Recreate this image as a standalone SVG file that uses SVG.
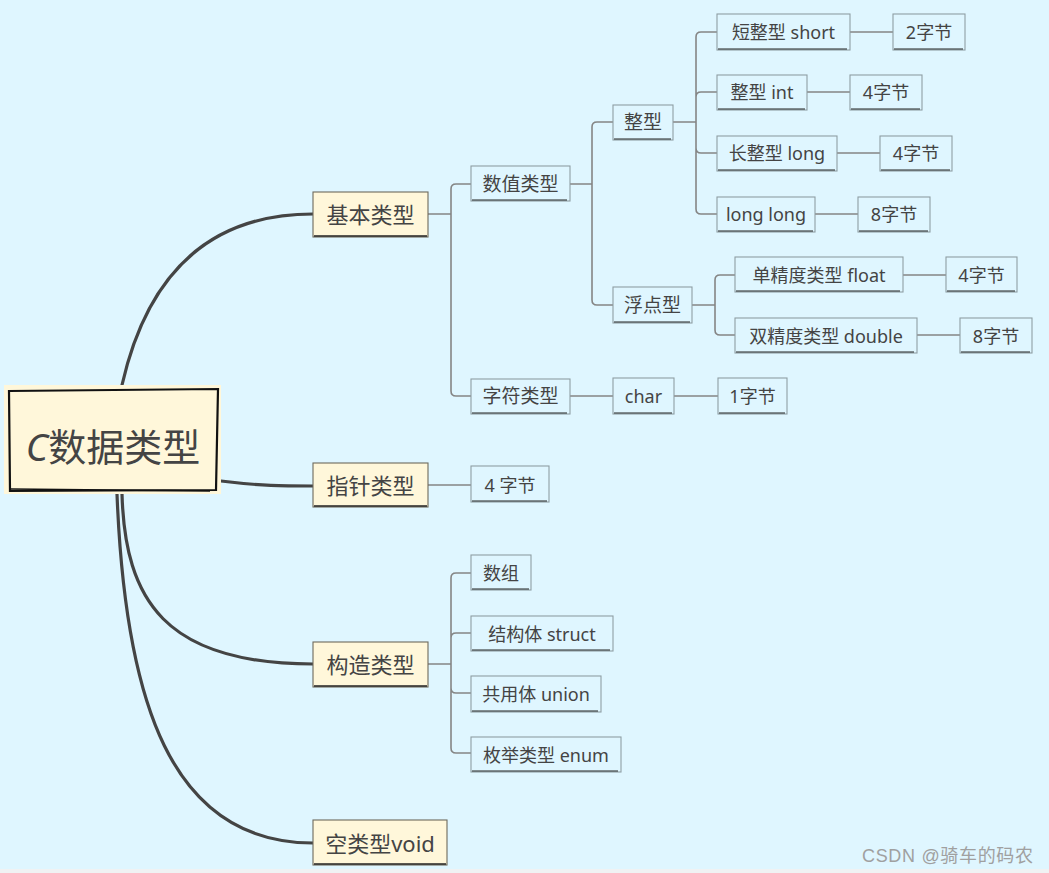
<svg xmlns="http://www.w3.org/2000/svg" width="1049" height="873" viewBox="0 0 1049 873">
<style>
.t{font-family:"Noto Sans","Noto Sans CJK SC",sans-serif;fill:#444;dominant-baseline:central;text-anchor:middle}
.leaf rect{fill:#dff6ff;stroke:#8e9ea4;stroke-width:1.1}
.leaf .b{stroke:#222;stroke-width:1.2;fill:none}
.l1 rect{fill:#fff7da;stroke:#6d6a5c;stroke-width:1.1}
.l1 .b{stroke:#222;stroke-width:1.3;fill:none}
.thick{fill:none;stroke:#444;stroke-width:3.2;stroke-linecap:round}
.thin{fill:none;stroke:#858585;stroke-width:1.6}
</style>
<rect x="0" y="0" width="1049" height="873" fill="#dff6ff"/>
<rect x="0" y="869" width="1049" height="4" fill="#f0f2f3"/>

<g id="connectors">
  <path class="thick" d="M122,385 C150,262 220,214 313,214"/>
  <path class="thick" d="M221,481 C262,486 282,486 313,486"/>
  <path class="thick" d="M122,494 C125,600 165,664 313,664"/>
  <path class="thick" d="M117,494 C125,700 170,843 313,843"/>

  <path class="thin" d="M428,214 H451 M451,214 V189 Q451,184 456,184 H471 M451,214 V391 Q451,396 456,396 H471"/>
  <path class="thin" d="M570,184 H592 M592,184 V127 Q592,122 597,122 H613 M592,184 V300 Q592,305 597,305 H613"/>
  <path class="thin" d="M673,122 H696 M696,122 V37 Q696,32 701,32 H717 M696,122 V97 Q696,92 701,92 H717 M696,122 V148 Q696,153 701,153 H717 M696,122 V209 Q696,214 701,214 H717"/>
  <path class="thin" d="M692,305 H715 M715,305 V280 Q715,275 720,275 H735 M715,305 V330 Q715,335 720,335 H735"/>
  <path class="thin" d="M428,664 H451 M451,664 V578 Q451,573 456,573 H471 M451,664 V638 Q451,633 456,633 H471 M451,664 V688 Q451,693 456,693 H471 M451,664 V748 Q451,753 456,753 H471"/>
  <path class="thin" d="M850,32 H893 M807,92 H850 M837,153 H880 M815,214 H858 M903,275 H946 M917,335 H960 M570,396 H613 M674,396 H718 M428,485 H471"/>
</g>

<g id="root">
  <rect x="4" y="385" width="217" height="109" fill="#fff7da"/>
  <path d="M9,391 L218,389 L216,490 L10,491 Z" fill="none" stroke="#111" stroke-width="2.2"/>
  <path d="M11,489 L210,491" fill="none" stroke="#111" stroke-width="1.4"/>
  <text class="t" x="113" y="446" font-size="38"><tspan font-style="italic">C</tspan>数据类型</text>
</g>

<g id="basic" class="l1"><rect x="313" y="192" width="115" height="45"/><path class="b" d="M314,236 H427"/><text class="t" x="370.5" y="214" font-size="22">基本类型</text></g>
<g id="pointer" class="l1"><rect x="313" y="463" width="115" height="44"/><path class="b" d="M314,506 H427"/><text class="t" x="370.5" y="485" font-size="22">指针类型</text></g>
<g id="struct-type" class="l1"><rect x="313" y="642" width="115" height="45"/><path class="b" d="M314,686 H427"/><text class="t" x="370.5" y="664" font-size="22">构造类型</text></g>
<g id="void" class="l1"><rect x="313" y="820" width="134" height="45"/><path class="b" d="M314,864 H446"/><text class="t" x="380" y="843" font-size="22">空类型void</text></g>

<g id="numeric" class="leaf"><rect x="471" y="166" width="99" height="35"/><path class="b" d="M472,200 H567"/><text class="t" x="520.5" y="184" font-size="19">数值类型</text></g>
<g id="chartype" class="leaf"><rect x="471" y="379" width="99" height="35"/><path class="b" d="M472,413 H567"/><text class="t" x="520.5" y="396" font-size="19">字符类型</text></g>
<g id="ptr4" class="leaf"><rect x="471" y="466" width="78" height="36"/><path class="b" d="M472,501 H547"/><text class="t" x="510" y="485" font-size="18">4 字节</text></g>

<g id="int" class="leaf"><rect x="613" y="105" width="60" height="35"/><path class="b" d="M614,139 H671"/><text class="t" x="643" y="122" font-size="19">整型</text></g>
<g id="float" class="leaf"><rect x="613" y="287" width="79" height="36"/><path class="b" d="M614,322 H690"/><text class="t" x="652.5" y="305" font-size="19">浮点型</text></g>
<g id="char" class="leaf"><rect x="613" y="378" width="61" height="36"/><path class="b" d="M614,413 H672"/><text class="t" x="643.5" y="396" font-size="18">char</text></g>
<g id="char1" class="leaf"><rect x="718" y="378" width="69" height="36"/><path class="b" d="M719,413 H785"/><text class="t" x="752.5" y="396" font-size="18">1字节</text></g>

<g id="short" class="leaf"><rect x="717" y="14" width="133" height="36"/><path class="b" d="M718,49 H847"/><text class="t" x="783.5" y="32" font-size="18">短整型 short</text></g>
<g id="short2" class="leaf"><rect x="893" y="14" width="72" height="36"/><path class="b" d="M894,49 H963"/><text class="t" x="929" y="32" font-size="18">2字节</text></g>
<g id="intn" class="leaf"><rect x="717" y="75" width="90" height="35"/><path class="b" d="M718,109 H805"/><text class="t" x="762" y="92" font-size="18">整型 int</text></g>
<g id="int4" class="leaf"><rect x="850" y="75" width="72" height="35"/><path class="b" d="M851,109 H920"/><text class="t" x="886" y="92" font-size="18">4字节</text></g>
<g id="long" class="leaf"><rect x="717" y="136" width="120" height="35"/><path class="b" d="M718,170 H835"/><text class="t" x="777" y="153" font-size="18">长整型 long</text></g>
<g id="long4" class="leaf"><rect x="880" y="136" width="72" height="35"/><path class="b" d="M881,170 H950"/><text class="t" x="916" y="153" font-size="18">4字节</text></g>
<g id="longlong" class="leaf"><rect x="717" y="197" width="98" height="35"/><path class="b" d="M718,231 H813"/><text class="t" x="766" y="214" font-size="18">long long</text></g>
<g id="longlong8" class="leaf"><rect x="858" y="197" width="72" height="35"/><path class="b" d="M859,231 H928"/><text class="t" x="894" y="214" font-size="18">8字节</text></g>
<g id="single" class="leaf"><rect x="735" y="257" width="168" height="35"/><path class="b" d="M736,291 H900"/><text class="t" x="819" y="275" font-size="18">单精度类型 float</text></g>
<g id="single4" class="leaf"><rect x="946" y="257" width="71" height="35"/><path class="b" d="M947,291 H1015"/><text class="t" x="981.5" y="275" font-size="18">4字节</text></g>
<g id="double" class="leaf"><rect x="735" y="318" width="182" height="35"/><path class="b" d="M736,352 H914"/><text class="t" x="826" y="336" font-size="18">双精度类型 double</text></g>
<g id="double8" class="leaf"><rect x="960" y="318" width="72" height="35"/><path class="b" d="M961,352 H1030"/><text class="t" x="996" y="336" font-size="18">8字节</text></g>

<g id="array" class="leaf"><rect x="471" y="555" width="60" height="35"/><path class="b" d="M472,589 H529"/><text class="t" x="501" y="573" font-size="18">数组</text></g>
<g id="structn" class="leaf"><rect x="471" y="616" width="142" height="35"/><path class="b" d="M472,650 H610"/><text class="t" x="542" y="634" font-size="18">结构体 struct</text></g>
<g id="union" class="leaf"><rect x="471" y="676" width="130" height="36"/><path class="b" d="M472,711 H598"/><text class="t" x="536" y="694" font-size="18">共用体 union</text></g>
<g id="enum" class="leaf"><rect x="471" y="737" width="150" height="35"/><path class="b" d="M472,771 H618"/><text class="t" x="546" y="755" font-size="18">枚举类型 enum</text></g>

<text x="862" y="862" font-family="Liberation Sans,'Noto Sans CJK SC',sans-serif" font-size="18" fill="#a0a0a0" textLength="171" lengthAdjust="spacing">CSDN @骑车的码农</text>
</svg>
